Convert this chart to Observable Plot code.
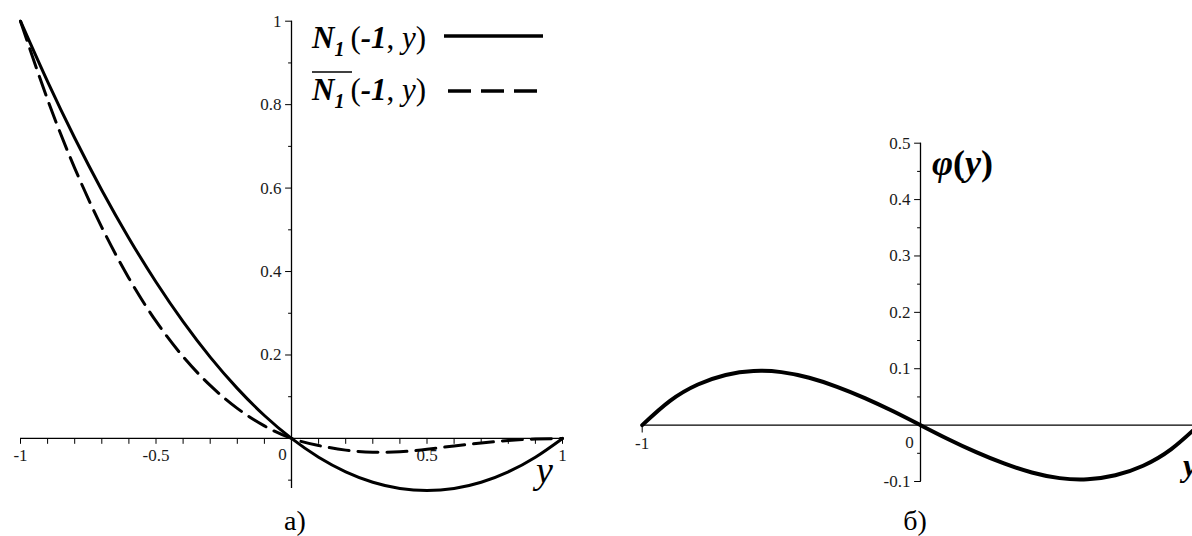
<!DOCTYPE html>
<html><head><meta charset="utf-8">
<script src="https://cdn.jsdelivr.net/npm/d3@7"></script>
<script src="https://cdn.jsdelivr.net/npm/@observablehq/plot@0.6"></script>
<style>
html,body{margin:0;padding:0;background:#fff;overflow:hidden;}
#wrap{position:relative;width:1192px;height:536px;overflow:hidden;background:#fff;}
.panel{position:absolute;top:0;height:536px;width:600px;}
.panel svg{max-width:none;display:block;}
.cap{position:absolute;font-family:"Liberation Serif",serif;font-size:28px;color:#000;transform:translate(-50%,-50%);white-space:nowrap;line-height:1;}
</style></head>
<body><div id="wrap">
<div id="left" class="panel" style="left:0"></div>
<div id="right" class="panel" style="left:600px"></div>
<div class="cap" style="left:295px;top:521px">a)</div>
<div class="cap" style="left:915px;top:521px">б)</div>
</div>
<script>
// ---- data ----
const yValues = [-1, -0.9, -0.8, -0.7, -0.6, -0.5, -0.4, -0.3, -0.2, -0.1, 0, 0.1, 0.2, 0.3, 0.4, 0.5, 0.6, 0.7, 0.8, 0.9, 1];
const n1Solid = [1.0, 0.855, 0.72, 0.595, 0.48, 0.375, 0.28, 0.195, 0.12, 0.055, 0, -0.045, -0.08, -0.105, -0.12, -0.125, -0.12, -0.105, -0.08, -0.045, 0];
const n1Bar = [1.0, 0.812, 0.648, 0.506, 0.384, 0.281, 0.196, 0.127, 0.072, 0.030, 0, -0.017, -0.028, -0.033, -0.032, -0.026, -0.018, -0.011, -0.005, -0.0015, 0];
const phi = [0, 0.043, 0.072, 0.089, 0.096, 0.094, 0.084, 0.068, 0.048, 0.025, 0, -0.025, -0.048, -0.068, -0.084, -0.094, -0.096, -0.089, -0.072, -0.043, 0];

// tick positions and labels
const leftXTicks = [-1, -0.9, -0.8, -0.7, -0.6, -0.5, -0.4, -0.3, -0.2, -0.1, 0.1, 0.2, 0.3, 0.4, 0.5, 0.6, 0.7, 0.8, 0.9, 1];
const leftXLabelVals = [-1, -0.5, 0.5, 1];
const leftXLabels = ["-1", "-0.5", "0.5", "1"];
const leftYMajor = [0.2, 0.4, 0.6, 0.8, 1];
const leftYMinor = [-0.1, 0.1, 0.3, 0.5, 0.7, 0.9];
const leftYLabels = ["0.2", "0.4", "0.6", "0.8", "1"];
const rightXTicks = [-1];
const rightXLabelVals = [-1];
const rightXLabels = ["-1"];
const rightYMajor = [-0.1, 0.1, 0.2, 0.3, 0.4, 0.5];
const rightYMinor = [-0.05, 0.05, 0.15, 0.25, 0.35, 0.45];
const rightYLabels = ["-0.1", "0.1", "0.2", "0.3", "0.4", "0.5"];

const serif = "'Liberation Serif', 'Times New Roman', serif";
const tickShape = {draw(context, l) { context.moveTo(0, 0); context.lineTo(0, -l); }};
const labelStyle = {fontFamily: serif, fontSize: 17, fill: "#1a1a1a"};

const rowsSolid = yValues.map((y, i) => ({y, v: n1Solid[i]}));
const rowsBar = yValues.map((y, i) => ({y, v: n1Bar[i]}));
const rowsPhi = yValues.map((y, i) => ({y, v: phi[i]}));

// ---- left panel ----
const left = Plot.plot({
  width: 600, height: 536,
  marginLeft: 20, marginRight: 38, marginTop: 20.7, marginBottom: 48,
  x: {domain: [-1, 1], axis: null},
  y: {domain: [-0.12, 1], axis: null},
  marks: [
    Plot.ruleY([0], {x1: -1, x2: 1, stroke: "#000", strokeWidth: 1.3}),
    Plot.ruleX([0], {y1: -0.12, y2: 1, stroke: "#000", strokeWidth: 1.3}),
    Plot.vector(leftXTicks, {x: d => d, y: 0, length: 5, rotate: 180, anchor: "start", shape: tickShape, stroke: "#000", strokeWidth: 1}),
    Plot.vector(leftYMajor, {x: 0, y: d => d, length: 6, rotate: 270, anchor: "start", shape: tickShape, stroke: "#000", strokeWidth: 1}),
    Plot.vector(leftYMinor, {x: 0, y: d => d, length: 3, rotate: 270, anchor: "start", shape: tickShape, stroke: "#000", strokeWidth: 1}),
    Plot.text(leftYMajor, {x: 0, y: d => d, text: (d, i) => leftYLabels[i], dx: -10, textAnchor: "end", ...labelStyle}),
    Plot.text(leftXLabelVals, {x: d => d, y: 0, text: (d, i) => leftXLabels[i], dy: 17, ...labelStyle}),
    Plot.text(["0"], {x: 0, y: 0, text: d => d, dx: -9, dy: 16, ...labelStyle}),
    Plot.line(rowsBar, {x: "y", y: "v", curve: "natural", stroke: "#000", strokeWidth: 3, strokeDasharray: "20,9"}),
    Plot.line(rowsSolid, {x: "y", y: "v", curve: "natural", stroke: "#000", strokeWidth: 3})
  ]
});
document.getElementById("left").appendChild(left);

// legend and axis label of left panel
{
  const g = d3.select(left).append("g").attr("font-family", serif).attr("fill", "#000").attr("text-anchor", "start");
  const row = (yb) => {
    const t = g.append("text").attr("x", 312).attr("y", yb).attr("font-size", 31).attr("text-anchor", "start");
    t.append("tspan").attr("font-style", "italic").attr("font-weight", "bold").text("N");
    t.append("tspan").attr("font-style", "italic").attr("font-weight", "bold").attr("font-size", 20).attr("dy", 8).text("1");
    t.append("tspan").attr("dy", -8).attr("dx", 6).text("(");
    t.append("tspan").attr("font-style", "italic").attr("font-weight", "bold").text("-1");
    t.append("tspan").text(", ");
    t.append("tspan").attr("font-style", "italic").text("y");
    t.append("tspan").text(")");
  };
  row(48);
  row(100);
  g.append("line").attr("x1", 312).attr("x2", 352).attr("y1", 72).attr("y2", 72).attr("stroke", "#000").attr("stroke-width", 1.5);
  g.append("line").attr("x1", 444).attr("x2", 543).attr("y1", 36).attr("y2", 36).attr("stroke", "#000").attr("stroke-width", 3.5);
  g.append("line").attr("x1", 448).attr("x2", 537).attr("y1", 91).attr("y2", 91).attr("stroke", "#000").attr("stroke-width", 3.5).attr("stroke-dasharray", "23,10");
  g.append("text").attr("x", 536).attr("y", 483).attr("font-size", 38).attr("font-style", "italic").attr("text-anchor", "start").text("y");
}

// ---- right panel ----
const right = Plot.plot({
  width: 600, height: 536,
  marginLeft: 41.7, marginRight: 1.7, marginTop: 142.7, marginBottom: 55,
  x: {domain: [-1, 1], axis: null},
  y: {domain: [-0.1, 0.5], axis: null},
  marks: [
    Plot.ruleY([0], {x1: -1, x2: 1, stroke: "#000", strokeWidth: 1.3}),
    Plot.ruleX([0], {y1: -0.1, y2: 0.5, stroke: "#000", strokeWidth: 1.3}),
    Plot.vector(rightXTicks, {x: d => d, y: 0, length: 7, rotate: 180, anchor: "start", shape: tickShape, stroke: "#000", strokeWidth: 1}),
    Plot.vector(rightYMajor, {x: 0, y: d => d, length: 6, rotate: 270, anchor: "start", shape: tickShape, stroke: "#000", strokeWidth: 1}),
    Plot.vector(rightYMinor, {x: 0, y: d => d, length: 3, rotate: 270, anchor: "start", shape: tickShape, stroke: "#000", strokeWidth: 1}),
    Plot.text(rightYMajor, {x: 0, y: d => d, text: (d, i) => rightYLabels[i], dx: -10, textAnchor: "end", ...labelStyle}),
    Plot.text(rightXLabelVals, {x: d => d, y: 0, text: (d, i) => rightXLabels[i], dy: 18, ...labelStyle}),
    Plot.text(["0"], {x: 0, y: 0, text: d => d, dx: -11, dy: 17, ...labelStyle}),
    Plot.line(rowsPhi, {x: "y", y: "v", curve: "natural", stroke: "#000", strokeWidth: 4})
  ]
});
document.getElementById("right").appendChild(right);
{
  const g = d3.select(right).append("g").attr("font-family", serif).attr("fill", "#000").attr("font-weight", "bold").attr("text-anchor", "start");
  const t = g.append("text").attr("x", 332).attr("y", 175).attr("font-size", 36).attr("text-anchor", "start");
  t.append("tspan").attr("font-style", "italic").text("φ");
  t.append("tspan").text("(");
  t.append("tspan").attr("font-style", "italic").text("y");
  t.append("tspan").text(")");
  g.append("text").attr("x", 583).attr("y", 476).attr("font-size", 32).attr("font-style", "italic").attr("text-anchor", "start").text("y");
}
</script>
</body></html>
